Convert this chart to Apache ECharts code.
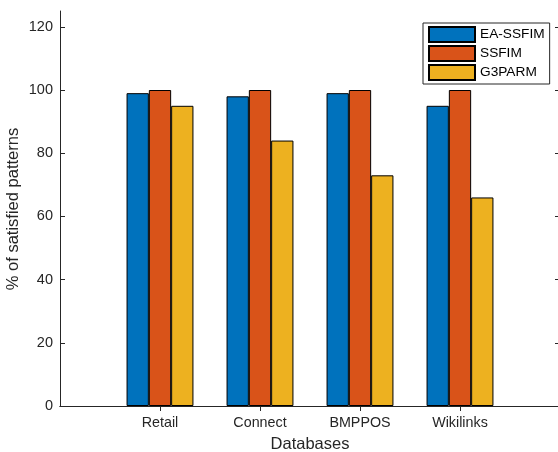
<!DOCTYPE html>
<html>
<head>
<meta charset="utf-8">
<script src="https://cdn.jsdelivr.net/npm/echarts@6/dist/echarts.min.js"></script>
<style>
html,body{margin:0;padding:0;background:#fff;}
#main{width:558px;height:452px;}
</style>
</head>
<body>
<div id="main"></div>
<script>
const categories = ['', 'Retail', 'Connect', 'BMPPOS', 'Wikilinks', ''];
const eaSsfim = [null, 99, 98, 99, 95, null];
const ssfim = [null, 100, 100, 100, 100, null];
const g3parm = [null, 95, 84, 73, 66, null];
const yTicks = [0, 20, 40, 60, 80, 100, 120];
const yTitle = '% of satisfied patterns';

const axisColor = '#262626';
const font = 'Liberation Sans, Arial, Helvetica, sans-serif';
const chart = echarts.init(document.getElementById('main'));
const tickFn = (idx) => idx >= 1 && idx <= 4;
function mkSeries(name, data, color) {
  return {
    name, type: 'bar', data, barWidth: 22.3, barGap: '0%',
    itemStyle: { color, borderColor: '#000', borderWidth: 1 },
    xAxisIndex: 0, yAxisIndex: 0, animation: false
  };
}
chart.setOption({
  animation: false,
  textStyle: { fontFamily: font },
  grid: { left: 60, top: 11, width: 500, height: 395, containLabel: false, outerBoundsMode: 'none' },
  legend: {
    orient: 'vertical', left: 423, top: 23,
    itemWidth: 46, itemHeight: 15, itemGap: 2, icon: 'rect',
    padding: [3, 5, 3, 5],
    backgroundColor: '#fff', borderColor: axisColor, borderWidth: 1,
    textStyle: { fontSize: 13.7, color: '#000', fontFamily: font },
    data: ['EA-SSFIM', 'SSFIM', 'G3PARM']
  },
  graphic: [{
    type: 'text', x: 13.5, y: 209, rotation: Math.PI / 2,
    style: { text: yTitle, align: 'center', verticalAlign: 'middle',
      fontSize: 16.5, fill: axisColor, fontFamily: font }
  }],
  xAxis: [{
    type: 'category', data: categories, boundaryGap: false, position: 'bottom',
    axisLine: { lineStyle: { color: axisColor, width: 1 } },
    axisTick: { inside: true, length: 5, interval: tickFn, lineStyle: { color: axisColor } },
    axisLabel: { interval: 0, margin: 10, fontSize: 14.3, color: axisColor, fontFamily: font },
    splitLine: { show: false },
    name: 'Databases', nameLocation: 'middle', nameGap: 30,
    nameTextStyle: { fontSize: 16.5, color: axisColor, fontFamily: font }
  }, {
    type: 'category', data: categories, boundaryGap: false, position: 'top',
    axisLine: { lineStyle: { color: axisColor, width: 1 } },
    axisTick: { inside: true, length: 5, interval: tickFn, lineStyle: { color: axisColor } },
    axisLabel: { show: false }, splitLine: { show: false }
  }],
  yAxis: [{
    type: 'value', min: 0, max: 125, interval: 20, position: 'left',
    axisLine: { show: true, lineStyle: { color: axisColor, width: 1 } },
    axisTick: { show: true, inside: true, length: 5, customValues: yTicks, lineStyle: { color: axisColor } },
    axisLabel: { margin: 7, fontSize: 14.5, color: axisColor, fontFamily: font, customValues: yTicks,
      formatter: (v) => String(v) },
    splitLine: { show: false }
  }, {
    type: 'value', min: 0, max: 125, interval: 20, position: 'right',
    axisLine: { show: true, lineStyle: { color: axisColor, width: 1 } },
    axisTick: { show: true, inside: true, length: 5, customValues: yTicks, lineStyle: { color: axisColor } },
    axisLabel: { show: false }, splitLine: { show: false }
  }],
  series: [
    mkSeries('EA-SSFIM', eaSsfim, '#0072BD'),
    mkSeries('SSFIM', ssfim, '#D95319'),
    mkSeries('G3PARM', g3parm, '#EDB120')
  ]
});
</script>
</body>
</html>
